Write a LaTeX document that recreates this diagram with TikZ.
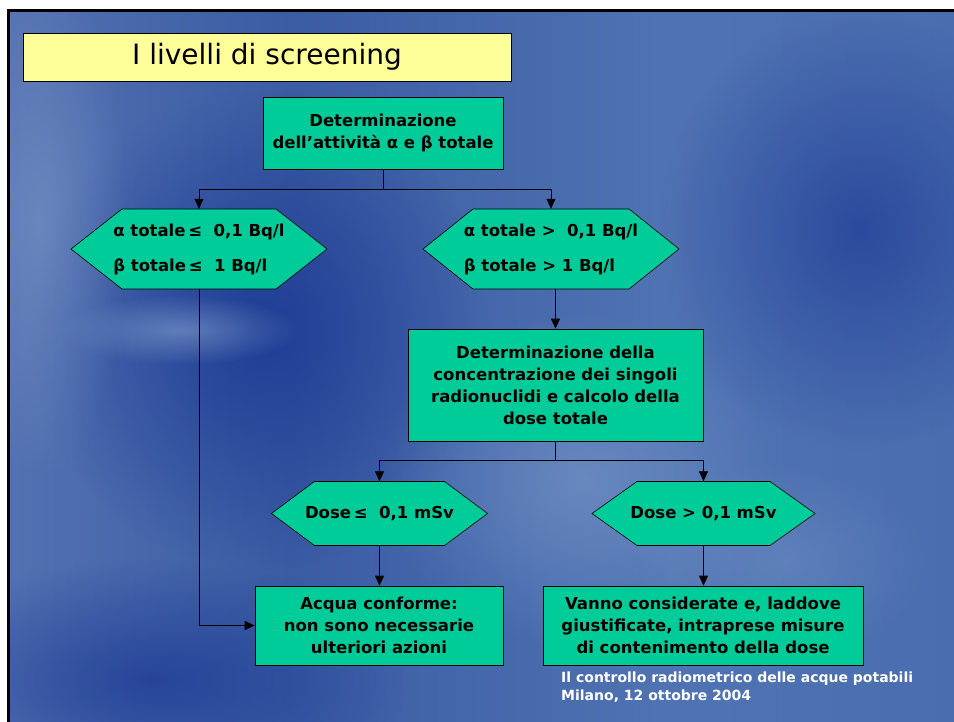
\documentclass[tikz,border=0pt]{standalone}
\usepackage{fontspec}
\setmainfont{DejaVu Sans}
\usetikzlibrary{arrows.meta,fadings}
\definecolor{hexgreen}{RGB}{0,204,153}
\definecolor{titley}{RGB}{255,255,153}
\definecolor{bgdark}{RGB}{22,50,145}
\definecolor{bglight}{RGB}{130,158,205}
\pgfdeclarehorizontalshading{bgsh}{100bp}{rgb(0bp)=(0.44,0.55,0.75); rgb(20bp)=(0.36,0.47,0.71); rgb(40bp)=(0.23,0.36,0.64); rgb(60bp)=(0.31,0.45,0.70); rgb(80bp)=(0.28,0.42,0.68); rgb(100bp)=(0.22,0.36,0.64)}
\tikzfading[name=softc, inner color=transparent!0, outer color=transparent!100]
\tikzset{
  box/.style={draw=black, fill=hexgreen, line width=0.6pt, inner sep=0pt, align=center,
    font=\bfseries\fontsize{16.5}{22}\selectfont},
  hextxt/.style={inner sep=0pt, align=left, font=\bfseries\fontsize{16.5}{35}\selectfont},
  hexfill/.style={draw=black, fill=hexgreen, line width=0.6pt},
  arr/.style={-{Triangle[length=10pt,width=9pt]}, line width=0.8pt},
  lnk/.style={line width=0.8pt},
  blob/.style={fill=#1, path fading=softc, fit fading=true}
}
\newcommand{\hexdraw}[5]{% cx, cy, halfw, halfh, depth
  \filldraw[hexfill] ({#1-#3},#2) -- ({#1-#3+#5},{#2-#4}) -- ({#1+#3-#5},{#2-#4}) -- ({#1+#3},#2)
    -- ({#1+#3-#5},{#2+#4}) -- ({#1-#3+#5},{#2+#4}) -- cycle;}
\begin{document}
\begin{tikzpicture}[x=1pt,y=-1pt]
\useasboundingbox (0,0) rectangle (954,722);
% background
\fill[white] (0,0) rectangle (954,722);
\begin{scope}
\clip (8,11) rectangle (954,722);
\shade[shading=bgsh] (8,11) rectangle (954,722);
\fill[blob=bgdark, opacity=0.75] (260,330) ellipse (230 and 240);
\fill[blob=bgdark, opacity=0.6] (860,230) ellipse (200 and 220);
\fill[blob=bgdark, opacity=0.65] (150,680) ellipse (260 and 120);
\fill[blob=bglight, opacity=0.55] (580,480) ellipse (200 and 170);
\fill[blob=bglight, opacity=0.6] (180,330) ellipse (120 and 35);
\fill[blob=bglight, opacity=0.5] (40,220) ellipse (90 and 260);
\fill[blob=bglight, opacity=0.35] (780,560) ellipse (150 and 100);
\end{scope}
\draw[black, line width=2.5pt] (8.5,722) -- (8.5,10.5) -- (954,10.5);
% title
\node[draw=black, fill=titley, line width=0.8pt, minimum width=488pt, minimum height=48pt, inner sep=0pt,
  font=\fontsize{28}{30}\selectfont] (title) at (267,57) {I livelli di screening};
% top box
\node[box, minimum width=240pt, minimum height=72pt] (top) at (383,133) {Determinazione\\dell’attività α e β totale};
% hexagons
\hexdraw{199}{249}{128}{40}{51}
\node[hextxt, minimum width=256pt, minimum height=80pt] (h1) at (199,249) {α totale\,≤\ \ 0,1 Bq/l\\β totale\,≤\ \ 1 Bq/l};
\hexdraw{551}{249}{128}{40}{50}
\node[hextxt, minimum width=256pt, minimum height=80pt] (h2) at (551,249) {α totale >\ \ 0,1 Bq/l\\β totale > 1 Bq/l};
% box 2
\node[box, minimum width=295pt, minimum height=112pt] (b2) at (555.5,385) {Determinazione della\\concentrazione dei singoli\\radionuclidi e calcolo della\\dose totale};
% hexagons 3,4
\hexdraw{379.5}{513.5}{108}{32}{43}
\node[hextxt, minimum width=216pt, minimum height=64pt] (h3) at (379.5,513.5) {Dose\,≤\ \ 0,1 mSv};
\hexdraw{703.5}{513.5}{111.5}{32}{45}
\node[hextxt, minimum width=223pt, minimum height=64pt] (h4) at (703.5,513.5) {Dose > 0,1 mSv};
% bottom boxes
\node[box, minimum width=248pt, minimum height=79pt] (b3) at (379,625.5) {Acqua conforme:\\non sono necessarie\\ulteriori azioni};
\node[box, minimum width=320pt, minimum height=79pt] (b4) at (703,625.5) {Vanno considerate e, laddove\\giustificate, intraprese misure\\di contenimento della dose};
% footer
\node[anchor=north west, inner sep=0pt, align=left, text=white, font=\bfseries\fontsize{14}{18}\selectfont] (foot) at (561,672)
  {Il controllo radiometrico delle acque potabili\\Milano, 12 ottobre 2004};
% connectors
\coordinate (s1) at (383,189);
\coordinate (s2) at (555.5,460);
\draw[lnk] (top.south) -- (s1);
\draw[arr] (s1) -| (h1.north);
\draw[arr] (s1) -| (h2.north);
\draw[arr] (b2.north |- h2.south) -- (b2.north);
\draw[lnk] (b2.south) -- (s2);
\draw[arr] (s2) -| (h3.north);
\draw[arr] (s2) -| (h4.north);
\draw[arr] (h3.south) -- (h3.south |- b3.north);
\draw[arr] (h4.south) -- (h4.south |- b4.north);
\draw[arr] (h1.south) |- (b3.west);
\end{tikzpicture}
\end{document}
